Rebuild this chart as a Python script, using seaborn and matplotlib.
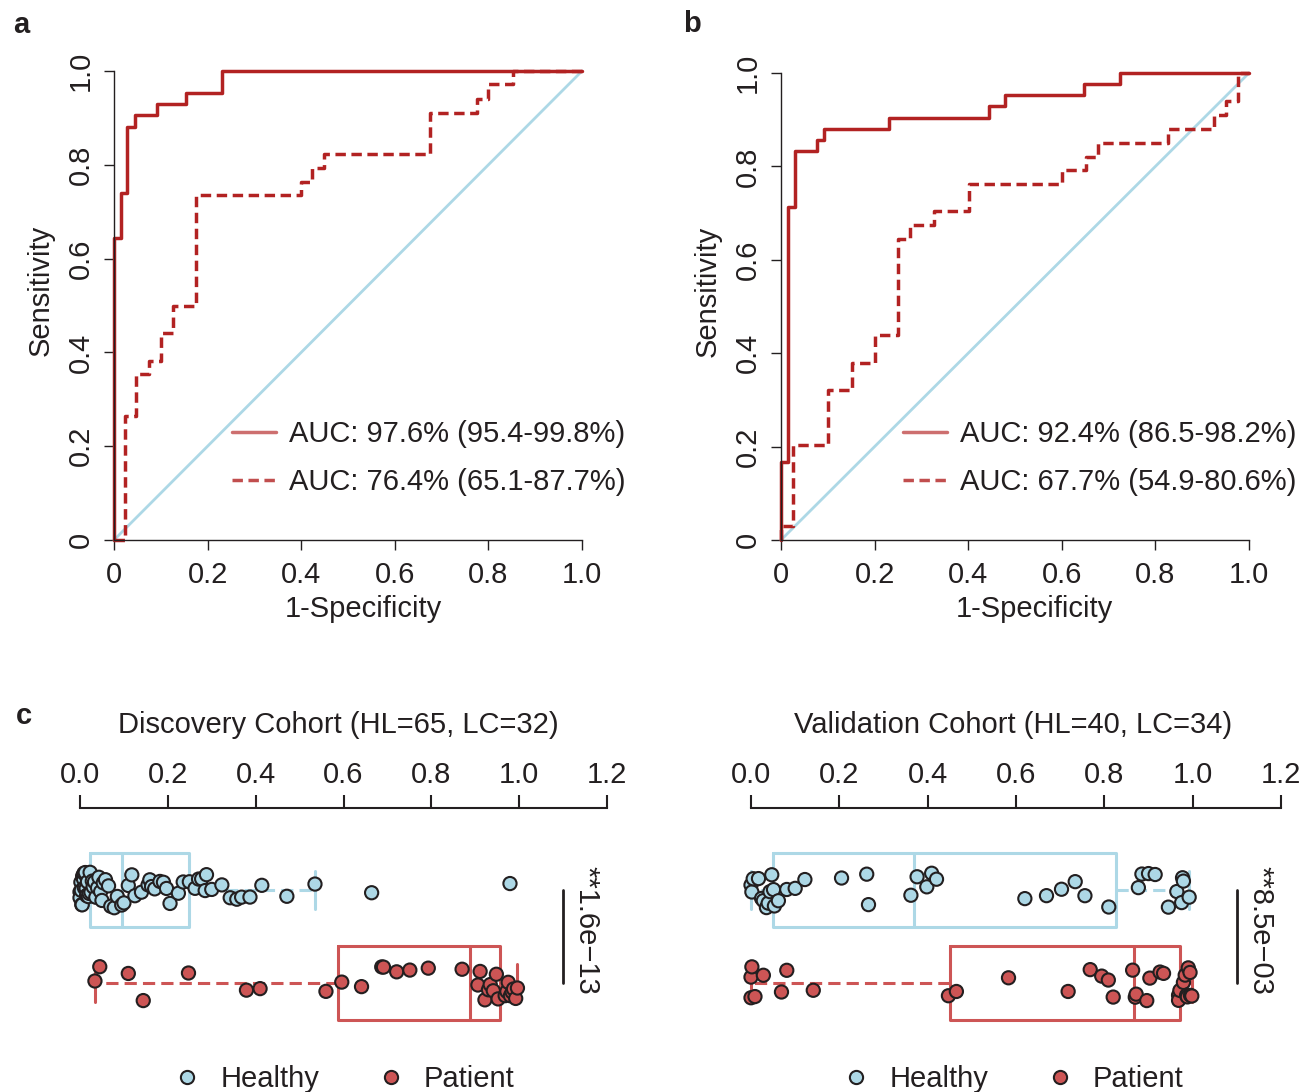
import numpy as np
import pandas as pd
import matplotlib.pyplot as plt
from matplotlib.lines import Line2D
import seaborn as sns

# fixed seed so the strip jitter is the same on every run
np.random.seed(3)

# ---- ROC data: step corners (1-specificity, sensitivity) ----
a_solid_fpr = [0, 0, 0.014, 0.028, 0.044, 0.091, 0.154, 0.230, 1.0]
a_solid_tpr = [0, 0.643, 0.739, 0.881, 0.906, 0.930, 0.954, 1.0, 1.0]
a_dash_fpr = [0, 0.0235, 0.048, 0.075, 0.100, 0.125, 0.175, 0.400, 0.424,
              0.449, 0.675, 0.775, 0.800, 0.852, 1.0]
a_dash_tpr = [0, 0.264, 0.353, 0.382, 0.441, 0.499, 0.736, 0.764, 0.794,
              0.823, 0.911, 0.941, 0.972, 1.0, 1.0]

b_solid_fpr = [0, 0, 0.016, 0.030, 0.076, 0.091, 0.230, 0.445, 0.478, 0.647, 0.724, 1.0]
b_solid_tpr = [0, 0.166, 0.714, 0.834, 0.857, 0.881, 0.904, 0.929, 0.953, 0.976, 1.0, 1.0]
b_dash_fpr = [0, 0, 0.026, 0.101, 0.151, 0.201, 0.251, 0.276, 0.326, 0.401, 0.601,
              0.651, 0.677, 0.826, 0.926, 0.951, 0.976, 1.0]
b_dash_tpr = [0, 0.029, 0.204, 0.321, 0.380, 0.439, 0.645, 0.675, 0.704, 0.763, 0.793,
              0.821, 0.851, 0.881, 0.911, 0.941, 1.0, 1.0]

auc_a = ["AUC: 97.6% (95.4-99.8%)", "AUC: 76.4% (65.1-87.7%)"]
auc_b = ["AUC: 92.4% (86.5-98.2%)", "AUC: 67.7% (54.9-80.6%)"]

roc_ticks = [0, 0.2, 0.4, 0.6, 0.8, 1.0]
roc_tick_labels = ["0", "0.2", "0.4", "0.6", "0.8", "1.0"]

# ---- score distributions ----
disc_healthy = [0.0, 0.0, 0.002, 0.003, 0.004, 0.005, 0.006, 0.008, 0.009, 0.010,
                0.012, 0.014, 0.015, 0.017, 0.019, 0.021, 0.023,
                0.025, 0.028, 0.030, 0.033, 0.036, 0.040, 0.043, 0.047, 0.050,
                0.053, 0.058, 0.065, 0.070, 0.078, 0.085, 0.095,
                0.100, 0.110, 0.118, 0.125, 0.140, 0.155, 0.159, 0.163, 0.170,
                0.182, 0.190, 0.197, 0.205, 0.224, 0.235, 0.249,
                0.262, 0.270, 0.277, 0.285, 0.288, 0.300, 0.323, 0.342, 0.357,
                0.368, 0.387, 0.414, 0.471, 0.535, 0.664, 0.979]
disc_patient = [0.034, 0.045, 0.110, 0.144, 0.247, 0.379, 0.410, 0.560,
                0.596, 0.641, 0.687, 0.691, 0.721, 0.751, 0.793, 0.870,
                0.906, 0.911, 0.922, 0.930, 0.934, 0.941, 0.948, 0.952,
                0.968, 0.972, 0.975, 0.980, 0.984, 0.987, 0.992, 0.996]
val_healthy = [0.0, 0.002, 0.005, 0.017, 0.024, 0.028, 0.035, 0.039, 0.043, 0.047,
               0.051, 0.053, 0.062, 0.081, 0.100, 0.122, 0.205, 0.262, 0.266, 0.362,
               0.376, 0.398, 0.409, 0.420, 0.620, 0.669, 0.703, 0.734, 0.756, 0.810,
               0.877, 0.885, 0.900, 0.915, 0.945, 0.964, 0.975, 0.977, 0.979, 0.992]
val_patient = [0.0, 0.0, 0.002, 0.009, 0.028, 0.069, 0.081, 0.141, 0.447, 0.465,
               0.583, 0.718, 0.768, 0.794, 0.809, 0.820, 0.864, 0.870, 0.872, 0.896,
               0.903, 0.926, 0.934, 0.968, 0.968, 0.971, 0.979, 0.983, 0.986, 0.988,
               0.990, 0.994, 0.995, 0.998]

box_ticks = [0.0, 0.2, 0.4, 0.6, 0.8, 1.0, 1.2]
box_tick_labels = ["0.0", "0.2", "0.4", "0.6", "0.8", "1.0", "1.2"]
groups = ["Healthy", "Patient"]
titles = ["Discovery Cohort (HL=65, LC=32)", "Validation Cohort (HL=40, LC=34)"]
pvals = ["**1.6e\u221213", "**8.5e\u221203"]

RED = "#B22222"
BLUE = "#ADD8E6"
PRED = "#CD5555"
INK = "#231F20"
palette = {"Healthy": BLUE, "Patient": PRED}

sns.set_theme(style="ticks")
plt.rcParams["font.family"] = ["Liberation Sans", "DejaVu Sans"]
plt.rcParams["font.size"] = 21
plt.rcParams["text.color"] = INK
plt.rcParams["axes.labelcolor"] = INK
plt.rcParams["xtick.color"] = INK
plt.rcParams["ytick.color"] = INK

W, H = 1301, 1092
fig = plt.figure(figsize=(W / 100, H / 100), dpi=100)


def px_rect(x0, y0, x1, y1):
    return [x0 / W, 1 - y1 / H, (x1 - x0) / W, (y1 - y0) / H]


def draw_roc(ax, sf, st, df_, dt, labels, leg_x, xlab_x):
    sns.lineplot(x=[0, 1], y=[0, 1], color=BLUE, lw=2.0, ax=ax, clip_on=False)
    sns.lineplot(x=df_, y=dt, estimator=None, sort=False, drawstyle="steps-post",
                 color=RED, lw=2.5, linestyle=(0, (3, 1.6)), ax=ax, clip_on=False)
    sns.lineplot(x=sf, y=st, estimator=None, sort=False, drawstyle="steps-post",
                 color=RED, lw=2.5, ax=ax, clip_on=False)
    ax.set_xlim(0, 1)
    ax.set_ylim(0, 1)
    ax.set_xticks(roc_ticks, roc_tick_labels)
    ax.set_yticks(roc_ticks, roc_tick_labels)
    ax.tick_params(axis="both", length=7, width=1.0, labelsize=21)
    ax.tick_params(axis="x", pad=8)
    ax.tick_params(axis="y", pad=7)
    for lab in ax.get_yticklabels():
        lab.set_rotation(90)
        lab.set_va("center")
    for s in ["top", "right"]:
        ax.spines[s].set_visible(False)
    for s in ["left", "bottom"]:
        ax.spines[s].set_linewidth(1.0)
        ax.spines[s].set_color(INK)
    ax.set_xlabel("1-Specificity", fontsize=21)
    ax.set_ylabel("Sensitivity", fontsize=21)
    ax.xaxis.set_label_coords(xlab_x, -0.117)
    ax.yaxis.set_label_coords(-0.127, 0.533)
    handles = [Line2D([], [], color=RED, alpha=0.65, lw=2.5),
               Line2D([], [], color=RED, alpha=0.8, lw=2.5, linestyle=(0, (3, 1.6)))]
    ax.legend(handles, labels, loc="center left", bbox_to_anchor=(leg_x / W, 1 - 458 / H),
              bbox_transform=fig.transFigure, frameon=False, handlelength=1.52,
              handletextpad=0.45, labelspacing=0.68, borderpad=0, borderaxespad=0,
              fontsize=21)


ax_a = fig.add_axes(px_rect(114, 71, 582, 540))
draw_roc(ax_a, a_solid_fpr, a_solid_tpr, a_dash_fpr, a_dash_tpr, auc_a, 232, 0.532)
ax_b = fig.add_axes(px_rect(781, 73, 1249, 540))
draw_roc(ax_b, b_solid_fpr, b_solid_tpr, b_dash_fpr, b_dash_tpr, auc_b, 903, 0.541)


def draw_box(ax, healthy, patient, title, pval, xmax, title_x, leg_x):
    df = pd.DataFrame({"group": ["Healthy"] * len(healthy) + ["Patient"] * len(patient),
                       "value": healthy + patient})
    sns.boxplot(data=df, x="value", y="group", hue="group", palette=palette,
                order=groups, fill=False, width=0.8, showfliers=False, linewidth=2.2,
                whiskerprops={"linestyle": (0, (4, 2))}, legend=False, ax=ax)
    sns.stripplot(data=df, x="value", y="group", hue="group", palette=palette,
                  order=groups, jitter=0.2, size=9.5, edgecolor=INK, linewidth=1.5,
                  legend=False, ax=ax, clip_on=False)
    ax.set_xlim(-0.05, xmax)
    ax.set_ylim(1.505, -0.882)
    ax.set_facecolor("none")
    ax.xaxis.tick_top()
    ax.set_xticks(box_ticks, box_tick_labels)
    ax.tick_params(axis="x", length=9.5, width=1.5, pad=4, labelsize=21)
    ax.set_yticks([])
    ax.set_xlabel("")
    ax.set_ylabel("")
    for s in ["left", "right", "bottom"]:
        ax.spines[s].set_visible(False)
    ax.spines["top"].set_bounds(0, 1.2)
    ax.spines["top"].set_linewidth(1.5)
    ax.spines["top"].set_color(INK)
    ax.plot([1.10, 1.10], [0, 1], color=INK, lw=2.0, clip_on=False)
    ax.text(1.153, 0.43, pval, rotation=270, ha="center", va="center", fontsize=21)
    fig.text(title_x / W, 1 - 725 / H, title, ha="center", va="center", fontsize=21)
    handles = [Line2D([], [], marker="o", ls="", markerfacecolor=palette[g],
                      markeredgecolor=INK, markersize=9.5, markeredgewidth=1.5)
               for g in groups]
    ax.legend(handles, groups, loc="center left", bbox_to_anchor=(leg_x / W, 1 - 1079 / H),
              bbox_transform=fig.transFigure, frameon=False, ncol=2, handlelength=0.8,
              handletextpad=0.75, columnspacing=2.05, borderpad=0, borderaxespad=0,
              fontsize=21)


ax_c1 = fig.add_axes(px_rect(80 - 0.05 * 439.2, 808, 80 + 1.25 * 439.2, 1030))
draw_box(ax_c1, disc_healthy, disc_patient, titles[0], pvals[0], 1.25, 338, 175)
ax_c2 = fig.add_axes(px_rect(751 - 0.05 * 441.7, 808, 751 + 1.21 * 441.7, 1030))
draw_box(ax_c2, val_healthy, val_patient, titles[1], pvals[1], 1.21, 1013, 844)

fig.text(13 / W, 1 - 25 / H, "a", fontweight="bold", va="center", fontsize=21)
fig.text(683 / W, 1 - 24 / H, "b", fontweight="bold", va="center", fontsize=21)
fig.text(16 / W, 1 - 716 / H, "c", fontweight="bold", va="center", fontsize=21)

fig.savefig("out.png", dpi=100)
